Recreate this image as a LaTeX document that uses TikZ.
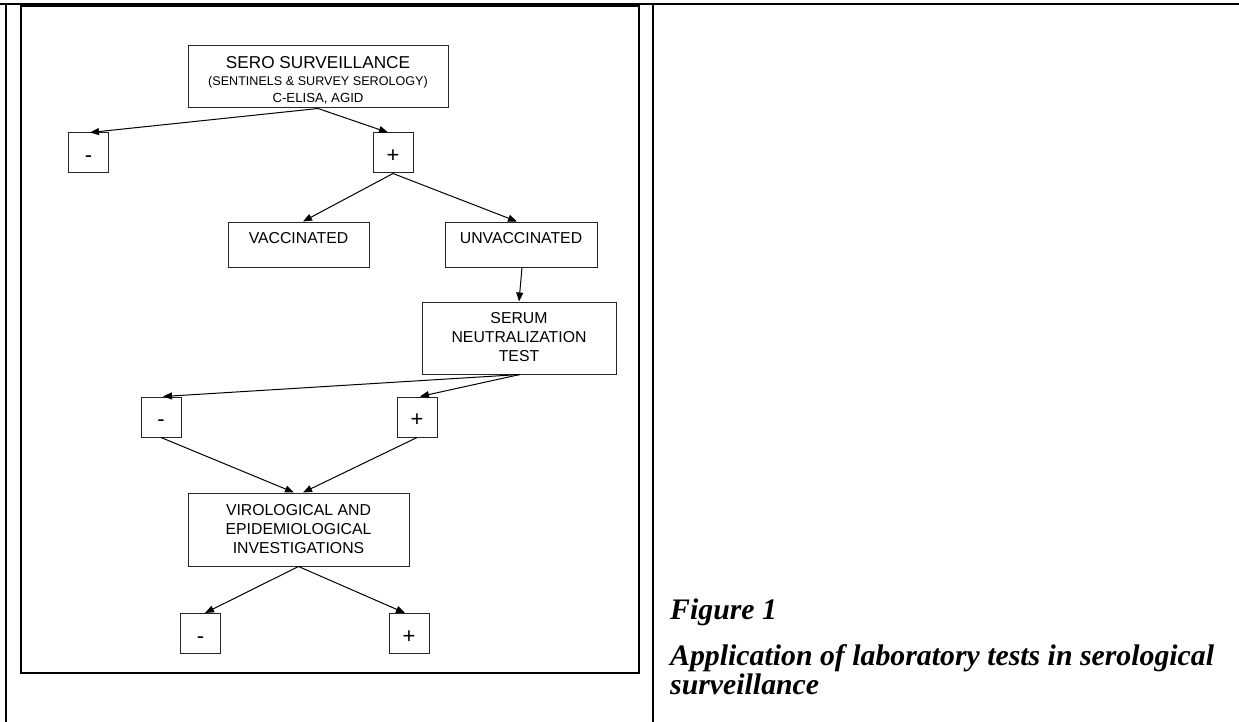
\documentclass[tikz,border=0pt]{standalone}
\usepackage{fontspec}
\setmainfont{Liberation Sans}
\newfontfamily\capfont{Liberation Serif}
\usetikzlibrary{arrows.meta}
\begin{document}
\begin{tikzpicture}[x=1pt,y=-1pt,
  box/.style={draw=black!85, line width=1pt, inner sep=0pt},
  pm/.style={box, minimum width=40pt, minimum height=40pt, text height=19pt, text depth=0pt, font=\fontsize{22}{26}\selectfont},
  lbl/.style={font=\fontsize{15.8}{19}\selectfont, inner sep=0pt, anchor=base},
  conn/.style={line width=1pt, -{Triangle[length=9pt,width=7pt]}},
  frame/.style={line width=2.2pt},
  capt/.style={font=\capfont\bfseries\itshape\fontsize{29.8}{30}\selectfont, inner sep=0pt, anchor=base west}]
\useasboundingbox (0,0) rectangle (1239,722);
% table and frame
\draw[frame] (0,4) -- (1239,4);
\draw[frame] (6,3) -- (6,722);
\draw[frame] (653,3) -- (653,722);
\draw[frame] (21,6) rectangle (639,673);
% boxes
\node[box, minimum width=260pt, minimum height=62pt] (sero) at (318,77) {};
\node[lbl, font=\fontsize{17.2}{20}\selectfont] (serot1) at (318,68.3) {SERO SURVEILLANCE};
\node[lbl, font=\fontsize{12.6}{14}\selectfont] (serot2) at (318,85.8) {(SENTINELS \& SURVEY SEROLOGY)};
\node[lbl, font=\fontsize{13.2}{14}\selectfont] (serot3) at (318,103) {C-ELISA, AGID};
\node[pm] (m1) at (88.5,153) {-};
\node[pm] (p1) at (393,153) {+};
\node[box, minimum width=141pt, minimum height=45pt] (vac) at (298.5,244.5) {};
\node[lbl] (vact) at (298.5,243.3) {VACCINATED};
\node[box, minimum width=152pt, minimum height=45pt] (unvac) at (521,244.5) {};
\node[lbl] (unvact) at (521,243.3) {UNVACCINATED};
\node[box, minimum width=194pt, minimum height=72pt] (serum) at (519,338) {};
\node[lbl] (serumt1) at (519,323.5) {SERUM};
\node[lbl] (serumt2) at (519,342.5) {NEUTRALIZATION};
\node[lbl] (serumt3) at (519,361) {TEST};
\node[pm] (m2) at (161,417) {-};
\node[pm] (p2) at (417,417) {+};
\node[box, minimum width=221pt, minimum height=73pt] (viro) at (298.5,529.5) {};
\node[lbl] (virot1) at (298.5,515.5) {VIROLOGICAL AND};
\node[lbl] (virot2) at (298.5,534.5) {EPIDEMIOLOGICAL};
\node[lbl] (virot3) at (298.5,553.5) {INVESTIGATIONS};
\node[pm] (m3) at (200.5,633.5) {-};
\node[pm] (p3) at (409,633.5) {+};
% connectors
\draw[conn] (sero.south) -- ([xshift=1.5pt]m1.north);
\draw[conn] (sero.south) -- ([xshift=-5pt]p1.north);
\draw[conn] (p1.south) -- ([xshift=4.5pt]vac.north);
\draw[conn] (p1.south) -- ([xshift=-4pt]unvac.north);
\draw[conn] ([xshift=1pt]unvac.south) -- (serum.north);
\draw[conn] ([xshift=1pt]serum.south) -- ([xshift=2pt]m2.north);
\draw[conn] ([xshift=1pt]serum.south) -- ([xshift=3pt]p2.north);
\draw[conn] (m2.south) -- ([xshift=-4.5pt]viro.north);
\draw[conn] (p2.south) -- ([xshift=4.5pt]viro.north);
\draw[conn] (viro.south) -- ([xshift=4.5pt]m3.north);
\draw[conn] (viro.south) -- ([xshift=-4pt]p3.north);
% caption
\node[capt] (fig) at (670,619) {Figure 1};
\node[capt] (cap1) at (670,665) {Application of laboratory tests in serological};
\node[capt] (cap2) at (670,694) {surveillance};
\end{tikzpicture}
\end{document}
